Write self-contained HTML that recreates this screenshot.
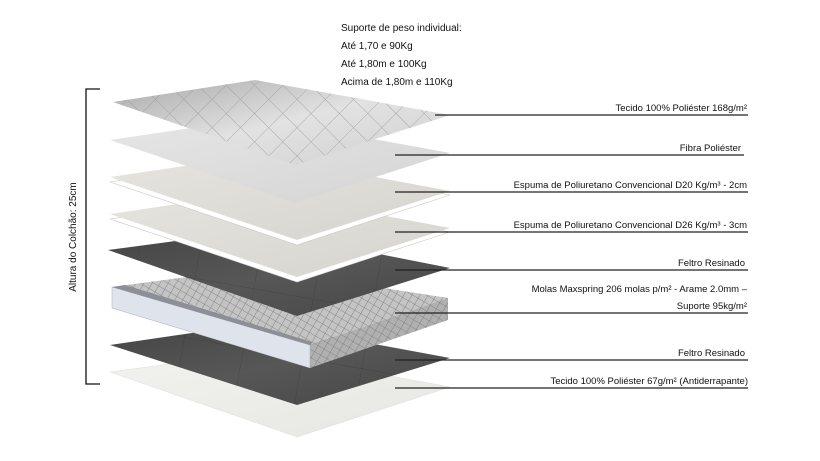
<!DOCTYPE html>
<html><head><meta charset="utf-8"><style>
html,body{margin:0;padding:0;background:#fff;}
svg{display:block;}
text{font-family:"Liberation Sans",sans-serif;fill:#111;}
</style></head><body>
<svg width="820" height="461" viewBox="0 0 820 461" xmlns="http://www.w3.org/2000/svg">
<defs>
<linearGradient id="quilt" x1="0" y1="0" x2="1" y2="1"><stop offset="0" stop-color="#a8a8a8"/><stop offset="0.5" stop-color="#e2e2e2"/><stop offset="1" stop-color="#d0d0d0"/></linearGradient>
<linearGradient id="fib" x1="0" y1="0" x2="1" y2="1"><stop offset="0" stop-color="#e6e6e6"/><stop offset="1" stop-color="#d4d4d4"/></linearGradient>
<linearGradient id="foam" x1="0" y1="0" x2="1" y2="1"><stop offset="0" stop-color="#e6e4de"/><stop offset="1" stop-color="#d6d4ce"/></linearGradient>
<linearGradient id="felt" x1="0" y1="0" x2="1" y2="1"><stop offset="0" stop-color="#444"/><stop offset="0.5" stop-color="#575757"/><stop offset="1" stop-color="#454545"/></linearGradient>
<linearGradient id="bot" x1="0" y1="0" x2="1" y2="1"><stop offset="0" stop-color="#f2f2ee"/><stop offset="1" stop-color="#e6e6e2"/></linearGradient>
<pattern id="grid" width="7" height="7" patternUnits="userSpaceOnUse" patternTransform="rotate(30)"><path d="M0 0H7M0 0V7" stroke="#777" stroke-width="0.8" fill="none"/></pattern>
<pattern id="qgrid" width="20" height="20" patternUnits="userSpaceOnUse" patternTransform="rotate(45)"><path d="M0 0H20M0 0V20" stroke="#999" stroke-width="0.9" fill="none"/></pattern>
<pattern id="fgrid" width="60" height="60" patternUnits="userSpaceOnUse" patternTransform="rotate(10)"><path d="M0 0H60M0 0V60" stroke="#333" stroke-width="1" fill="none" opacity="0.4"/></pattern>
</defs>

<polygon points="110,372 260,352 450,387 297,437" fill="url(#bot)" stroke="#ddd" stroke-width="0.5"/>
<polygon points="110,345 260,323 450,358 297,405" fill="url(#felt)"/>
<polygon points="110,345 260,323 450,358 297,405" fill="url(#fgrid)"/>
<polygon points="112,287 255,268 448,298 310,345" fill="#c4c4c4"/>
<polygon points="112,287 255,268 448,298 310,345" fill="url(#grid)"/>
<polygon points="310,345 448,298 448,320 310,368" fill="#b0b0b0"/>
<polygon points="310,345 448,298 448,320 310,368" fill="url(#grid)"/>
<polygon points="112,287 310,345 310,368 112,308" fill="#dfe4ec" stroke="#aab" stroke-width="0.5"/>
<polygon points="112,287 125,285 312,342 310,345" fill="#8c8f96"/>
<polygon points="108,250 258,230 450,268 297,316" fill="url(#felt)"/>
<polygon points="108,250 258,230 450,268 297,316" fill="url(#fgrid)"/>
<polygon points="110,219 258,197 450,232 297,282" fill="#fff" stroke="#c8c8c8" stroke-width="0.6"/>
<polygon points="110,214 258,192 450,228 297,277" fill="url(#foam)"/>
<polygon points="110,182 258,160 450,195 297,245" fill="#fff" stroke="#c8c8c8" stroke-width="0.6"/>
<polygon points="110,177 258,155 450,191 297,240" fill="url(#foam)"/>
<polygon points="110,140 258,118 450,153 295,203" fill="url(#fib)"/>
<polygon points="113,102 255,80 450,115 295,165" fill="url(#quilt)"/>
<polygon points="113,102 255,80 450,115 295,165" fill="url(#qgrid)" opacity="0.8"/>

<path d="M100,89 H86 V384 H100" stroke="#111" stroke-width="1.3" fill="none"/>
<text x="0" y="0" font-size="10" transform="translate(76,237) rotate(-90)" text-anchor="middle">Altura do Colchão: 25cm</text>

<text x="341" y="31" font-size="10">Suporte de peso individual:</text>
<text x="341" y="49" font-size="10">Até 1,70 e 90Kg</text>
<text x="341" y="67" font-size="10">Até 1,80m e 100Kg</text>
<text x="341" y="85" font-size="10">Acima de 1,80m e 110Kg</text>

<g stroke="#222" stroke-width="1.2">
<line x1="435" y1="115" x2="748" y2="115"/>
<line x1="395" y1="155" x2="744" y2="155"/>
<line x1="395" y1="192" x2="748" y2="192"/>
<line x1="395" y1="232" x2="748" y2="232"/>
<line x1="395" y1="270" x2="748" y2="270"/>
<line x1="395" y1="313" x2="748" y2="313"/>
<line x1="395" y1="360" x2="748" y2="360"/>
<line x1="395" y1="388" x2="748" y2="388"/>
</g>
<g font-size="9.5" text-anchor="end">
<text x="747" y="111">Tecido 100% Poliéster 168g/m²</text>
<text x="741" y="151">Fibra Poliéster</text>
<text x="747" y="188">Espuma de Poliuretano Convencional D20 Kg/m³ - 2cm</text>
<text x="747" y="228">Espuma de Poliuretano Convencional D26 Kg/m³ - 3cm</text>
<text x="745" y="266">Feltro Resinado</text>
<text x="747" y="292">Molas Maxspring 206 molas p/m² - Arame 2.0mm –</text>
<text x="747" y="309">Suporte 95kg/m²</text>
<text x="745" y="356">Feltro Resinado</text>
<text x="748" y="384">Tecido 100% Poliéster 67g/m² (Antiderrapante)</text>
</g>
</svg>
</body></html>
